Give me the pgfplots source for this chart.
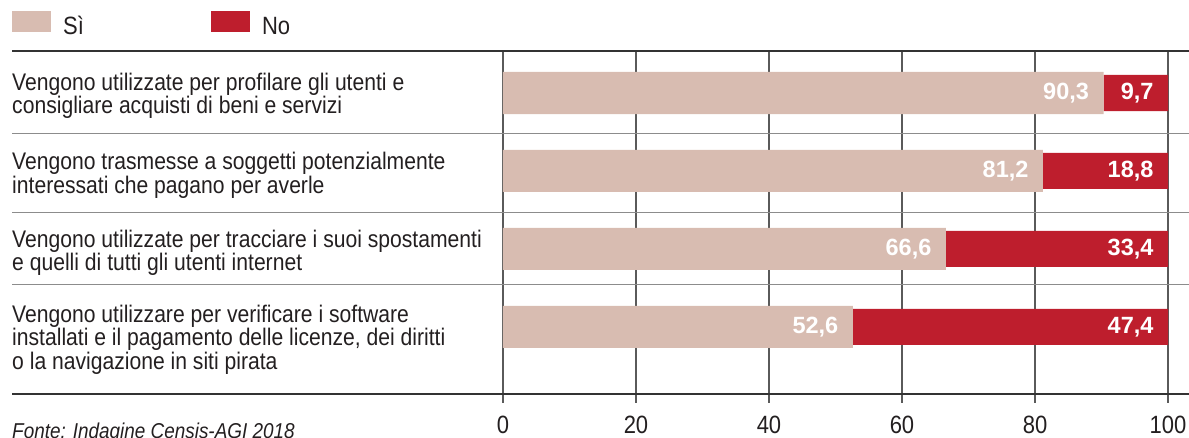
\documentclass[border=0pt]{standalone}
\usepackage{fontspec}
\setmainfont{Liberation Sans}[FakeStretch=0.88]
\newfontfamily\numfont{Liberation Sans}
\usepackage{pgfplots}
\usepackage{pgfplotstable}
\pgfplotsset{compat=1.18}
\definecolor{siC}{HTML}{D8BCB1}
\definecolor{noC}{HTML}{BE1E2D}
\definecolor{txt}{HTML}{231F20}
\definecolor{gridC}{HTML}{5A5A5A}
\definecolor{sepC}{HTML}{8C8C8C}
\definecolor{lineC}{HTML}{333333}
\newcommand\catfont{\fontsize{24}{21.3}\selectfont}

\pgfplotstableread{
idx si no silab nolab
0 90.3 9.7 90,3 9,7
1 81.2 18.8 81,2 18,8
2 66.6 33.4 66,6 33,4
3 52.6 47.4 52,6 47,4
}\data

\begin{document}
\begin{tikzpicture}
\useasboundingbox (0,0) rectangle (1189pt,438pt);
\begin{axis}[
  at={(503pt,44pt)}, anchor=south west,
  scale only axis, width=665pt, height=343pt,
  xmin=0, xmax=100, ymin=-0.5385, ymax=3.859, y dir=reverse,
  xbar stacked,
  axis line style={draw=none},
  ytick=\empty,
  xtick={0,20,40,60,80,100},
  xtick pos=left,
  xmajorgrids, grid style={gridC, line width=1.2pt},
  tick align=outside, major tick length=9pt,
  tick style={gridC, line width=1.2pt},
  /pgf/number format/assume math mode=true,
  xticklabel style={anchor=north, inner sep=0pt, yshift=-13pt, text=txt, font=\fontsize{25}{25}\selectfont},
  clip=false,
  legend style={at={(axis description cs:-0.7383,1.1166)}, anchor=north west, draw=none, fill=none, inner sep=0pt,
    font=\fontsize{25}{25}\selectfont, text=txt,
    /tikz/every even column/.append style={column sep=125pt}},
  legend columns=2,
  legend image code/.code={\fill[#1] (0pt,-6pt) rectangle (39pt,15pt); \path (49pt,0pt);},
]
\addplot[fill=siC, draw=none, bar width=42pt,
  nodes near coords, point meta=explicit symbolic,
  visualization depends on={\thisrow{si}*3.325-11 \as \myshift},
  nodes near coords style={anchor=east, xshift=\myshift pt, text=white, font=\numfont\bfseries\fontsize{23.5}{24}\selectfont}]
  table[x=si, y=idx, meta=silab]{\data};
\addlegendentry{Sì}
\addplot[fill=noC, draw=none, bar width=36pt,
  nodes near coords, point meta=explicit symbolic,
  visualization depends on={\thisrow{no}*3.325-11 \as \myshift},
  nodes near coords style={anchor=east, xshift=\myshift pt, text=white, font=\numfont\bfseries\fontsize{23.5}{24}\selectfont}]
  table[x=no, y=idx, meta=nolab]{\data};
\addlegendentry{No}

\draw[lineC, line width=1.3pt] (axis cs:-73.83,-0.5385) -- (axis cs:103.2,-0.5385);
\draw[sepC, line width=1.3pt] (axis cs:-73.83,0.517) -- (axis cs:103.2,0.517);
\draw[sepC, line width=1.3pt] (axis cs:-73.83,1.529) -- (axis cs:103.2,1.529);
\draw[sepC, line width=1.3pt] (axis cs:-73.83,2.455) -- (axis cs:103.2,2.455);
\draw[lineC, line width=1.3pt] (axis cs:-73.83,3.859) -- (axis cs:103.2,3.859);

\node[anchor=west, align=left, font=\catfont, text=txt, inner sep=0pt] at (axis cs:-73.83,0.036)
  {Vengono utilizzate per profilare gli utenti e\\consigliare acquisti di beni e servizi};
\node[anchor=west, align=left, font=\catfont, text=txt, inner sep=0pt] at (axis cs:-73.83,1.055)
  {Vengono trasmesse a soggetti potenzialmente\\interessati che pagano per averle};
\node[anchor=west, align=left, font=\catfont, text=txt, inner sep=0pt] at (axis cs:-73.83,2.045)
  {Vengono utilizzate per tracciare i suoi spostamenti\\e quelli di tutti gli utenti internet};
\node[anchor=west, align=left, font=\catfont, text=txt, inner sep=0pt] at (axis cs:-73.83,3.163)
  {Vengono utilizzare per verificare i software\\installati e il pagamento delle licenze, dei diritti\\o la navigazione in siti pirata};
\end{axis}
\node[anchor=base west, inner sep=0pt, font=\itshape\fontsize{21.5}{22}\selectfont, text=txt] at (12pt,-1pt)
  {Fonte: Indagine Censis-AGI 2018};
\end{tikzpicture}
\end{document}
